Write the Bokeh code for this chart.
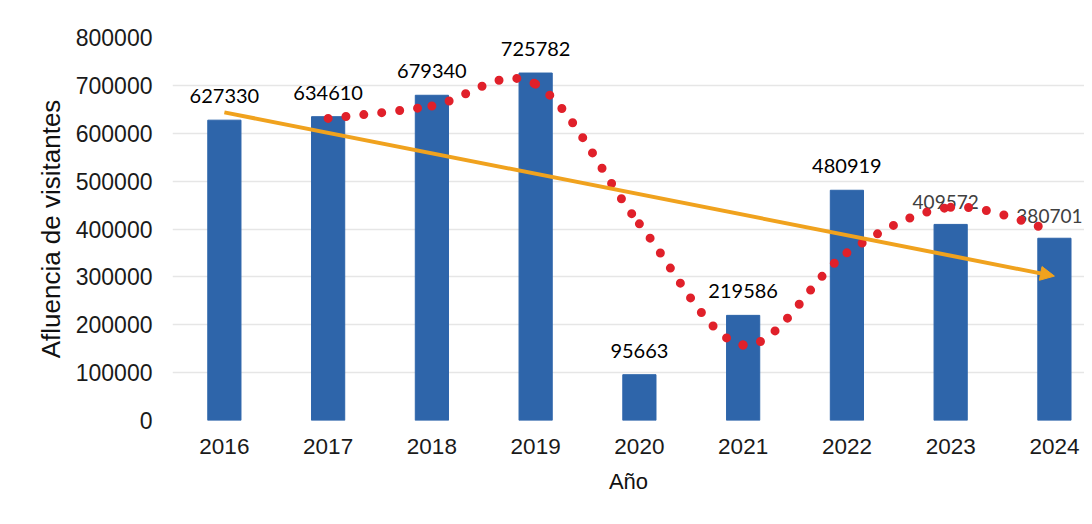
from bokeh.plotting import figure
from bokeh.models import Range1d, FixedTicker, Arrow, NormalHead, NumeralTickFormatter
from bokeh.core.properties import value
from bokeh.embed import file_html
from bokeh.resources import INLINE

# ---- data ----
years = [2016, 2017, 2018, 2019, 2020, 2021, 2022, 2023, 2024]
visitors = [627330, 634610, 679340, 725782, 95663, 219586, 480919, 409572, 380701]
# 2-period moving average (red dotted smoothed line), starts at 2017
ma_years = [2017, 2018, 2019, 2020, 2021, 2022, 2023, 2024]
moving_avg = [630970, 656975, 702561, 410722, 157624, 350252, 445245, 395136]
# linear trend (orange arrow) endpoints
trend_years = [2016, 2024]
trend_values = [643600, 301600]
y_ticks = [0, 100000, 200000, 300000, 400000, 500000, 600000, 700000, 800000]

BAR = "#2E65AA"
RED = "#E0202A"
ORANGE = "#F0A21E"

p = figure(width=1084, height=516, output_backend="svg", toolbar_location=None,
           x_range=Range1d(2015.5, 2024.29), y_range=Range1d(0, 800000),
           min_border_left=172, min_border_right=0, min_border_top=37,
           min_border_bottom=96)
p.outline_line_color = None
p.background_fill_color = "white"
p.border_fill_color = "white"

# bars
p.vbar(x=years, top=visitors, width=0.32, color=BAR)

# data labels
lab_txt = [str(v) for v in visitors]
p.text(x=years[:7], y=visitors[:7], text=lab_txt[:7], text_align="center",
       text_baseline="middle", y_offset=-24, text_font=value("Lato"),
       text_font_size="20px", text_color="#000000")
p.text(x=years[7:], y=visitors[7:], text=lab_txt[7:], text_align="center",
       text_baseline="middle", y_offset=-22, x_offset=-5, text_font=value("Lato"),
       text_font_size="19px", text_color="#404040")

# smoothed moving-average curve (Catmull-Rom -> Bezier)
n = len(ma_years)
bx0, by0, bx1, by1, cx0, cy0, cx1, cy1 = [], [], [], [], [], [], [], []
for i in range(n - 1):
    a = i - 1 if i > 0 else i
    d = i + 2 if i + 2 < n else i + 1
    bx0.append(ma_years[i]); by0.append(moving_avg[i])
    bx1.append(ma_years[i + 1]); by1.append(moving_avg[i + 1])
    cx0.append(ma_years[i] + (ma_years[i + 1] - ma_years[a]) / 6)
    cy0.append(moving_avg[i] + (moving_avg[i + 1] - moving_avg[a]) / 6)
    cx1.append(ma_years[i + 1] - (ma_years[d] - ma_years[i]) / 6)
    cy1.append(moving_avg[i + 1] - (moving_avg[d] - moving_avg[i]) / 6)
p.bezier(x0=bx0, y0=by0, x1=bx1, y1=by1, cx0=cx0, cy0=cy0, cx1=cx1, cy1=cy1,
         line_color=RED, line_width=9, line_dash="0 18", line_cap="round")

# trend arrow
p.add_layout(Arrow(x_start=trend_years[0], y_start=trend_values[0],
                   x_end=trend_years[1], y_end=trend_values[1],
                   line_color=ORANGE, line_width=4,
                   end=NormalHead(size=14, fill_color=ORANGE, line_color=ORANGE)))

# axes
p.xgrid.visible = False
p.ygrid.grid_line_color = "#E6E6E6"
p.ygrid.grid_line_width = 1.5

p.yaxis.ticker = FixedTicker(ticks=y_ticks)
p.yaxis.formatter = NumeralTickFormatter(format="0")
p.xaxis.ticker = FixedTicker(ticks=years)
p.xaxis.formatter = NumeralTickFormatter(format="0")

for ax in (p.xaxis[0], p.yaxis[0]):
    ax.axis_line_color = None
    ax.major_tick_line_color = None
    ax.minor_tick_line_color = None
    ax.major_tick_out = 0
    ax.major_tick_in = 0
    ax.major_label_text_font = "Liberation Sans"
    ax.major_label_text_color = "#1a1a1a"
    ax.axis_label_text_font = "Liberation Sans"
    ax.axis_label_text_font_style = "normal"
    ax.axis_label_text_color = "#111111"

p.yaxis.major_label_text_font_size = "23px"
p.yaxis.major_label_standoff = 20
p.yaxis.axis_label = "Afluencia de visitantes"
p.yaxis.axis_label_text_font_size = "26px"
p.yaxis.axis_label_standoff = 7

p.xaxis.major_label_text_font_size = "22.5px"
p.xaxis.major_label_standoff = 18
p.xaxis.axis_label = "Año"
p.xaxis.axis_label_text_font_size = "22px"
p.xaxis.axis_label_standoff = 12

open("out.html", "w").write(file_html(p, INLINE))
